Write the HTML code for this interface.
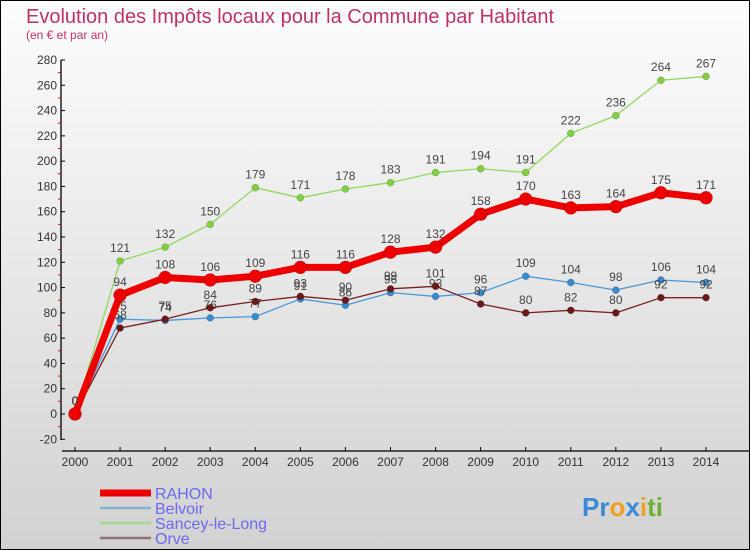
<!DOCTYPE html>
<html><head><meta charset="utf-8"><style>
body{margin:0}
svg{display:block;font-family:"Liberation Sans",sans-serif}
</style></head><body>
<svg width="750" height="550">
<defs><linearGradient id="bg" x1="0" y1="0" x2="0" y2="1"><stop offset="0" stop-color="#fdfdfd"/><stop offset="1" stop-color="#d2d2d2"/></linearGradient></defs>
<rect x="0.5" y="0.5" width="749" height="549" fill="url(#bg)" stroke="#000"/>
<text x="26" y="23" font-size="20" fill="#c0306a">Evolution des Impôts locaux pour la Commune par Habitant</text>
<text x="26" y="39" font-size="12" fill="#c0306a">(en € et par an)</text>
<g id="axes"></g>
<g id="series"></g>
<g id="legend"></g>
<text x="582" y="516" font-size="26" font-weight="bold"><tspan fill="#3a8ad8">Pr</tspan><tspan fill="#f0a020">o</tspan><tspan fill="#3a8ad8">x</tspan><tspan fill="#f0a020">i</tspan><tspan fill="#70b030">ti</tspan></text>
</svg>
<script>
const years=[2000,2001,2002,2003,2004,2005,2006,2007,2008,2009,2010,2011,2012,2013,2014];
const yTicks=[-20,0,20,40,60,80,100,120,140,160,180,200,220,240,260,280];
const rahon=[0,94,108,106,109,116,116,128,132,158,170,163,164,175,171];
const belvoir=[0,75,74,76,77,91,86,96,93,96,109,104,98,106,104];
const sancey=[0,121,132,150,179,171,178,183,191,194,191,222,236,264,267];
const orve=[0,68,75,84,89,93,90,99,101,87,80,82,80,92,92];
const NS="http://www.w3.org/2000/svg";
function X(i){return 75+i*(706-75)/14;}
function Y(v){return 414-v*(414-60)/280;}
function mk(p,t,a){const e=document.createElementNS(NS,t);for(const k in a)e.setAttribute(k,a[k]);p.appendChild(e);return e;}
const ax=document.getElementById('axes');
let l=mk(ax,'line',{x1:61,y1:60,x2:61,y2:440,stroke:'#000','stroke-width':1.3});


l=mk(ax,'line',{x1:62,y1:451,x2:750,y2:451,stroke:'#000','stroke-width':1.3});


yTicks.forEach((v,i)=>{
  mk(ax,'line',{x1:61,y1:Y(v),x2:65,y2:Y(v),stroke:'#000'});
  if(i<yTicks.length-1) mk(ax,'line',{x1:58,y1:Y(v+10),x2:61,y2:Y(v+10),stroke:'#e00'});
  const t=mk(ax,'text',{x:57,y:Y(v)+4,'font-size':12,'text-anchor':'end',fill:'#333'});
  t.textContent=v;
  
  
});
years.forEach((yr,i)=>{
  mk(ax,'line',{x1:X(i),y1:447,x2:X(i),y2:451,stroke:'#000'});
  const t=mk(ax,'text',{x:X(i),y:466,'font-size':12,'text-anchor':'middle',fill:'#333'});
  t.textContent=yr;
  
  
});
const S=document.getElementById('series');
function draw(name,data,color,w,r,dot){
  const g=mk(S,'g',{});
  
  
  const pl=mk(g,'polyline',{points:data.map((v,i)=>X(i)+','+Y(v)).join(' '),fill:'none',stroke:color,'stroke-width':w,'stroke-linejoin':'round'});
  
  
  data.forEach((v,i)=>{
    const c=mk(g,'circle',{cx:X(i),cy:Y(v),r:r,fill:dot,stroke:'rgba(0,0,0,0.3)','stroke-width':0.5});
    
    
    const t=mk(g,'text',{x:X(i),y:Y(v)-9,'font-size':12,'text-anchor':'middle',fill:'#444'});
    t.textContent=v;
    
    
  });
}
draw('sancey',sancey,'#90d860',1.3,3.5,'#80d040');
draw('belvoir',belvoir,'#4a9ad8',1.3,3.5,'#3a8ad0');
draw('orve',orve,'#7a2020',1.3,3.5,'#6a1818');
draw('rahon',rahon,'#ee0000',7,6.5,'#ee0000');
const L=document.getElementById('legend');
[['RAHON','#ee0000',7],['Belvoir','#88b0d0',2.5],['Sancey-le-Long','#a8d890',2.5],['Orve','#907070',2.5]].forEach((d,i)=>{
  const y=493+i*15;
  const ln=mk(L,'line',{x1:100,y1:y,x2:151,y2:y,stroke:d[1],'stroke-width':d[2]});
  
  
  const t=mk(L,'text',{x:155,y:y+6,'font-size':16,fill:'#6a6af0'});
  t.textContent=d[0];
  
  
});
</script>
</body></html>
